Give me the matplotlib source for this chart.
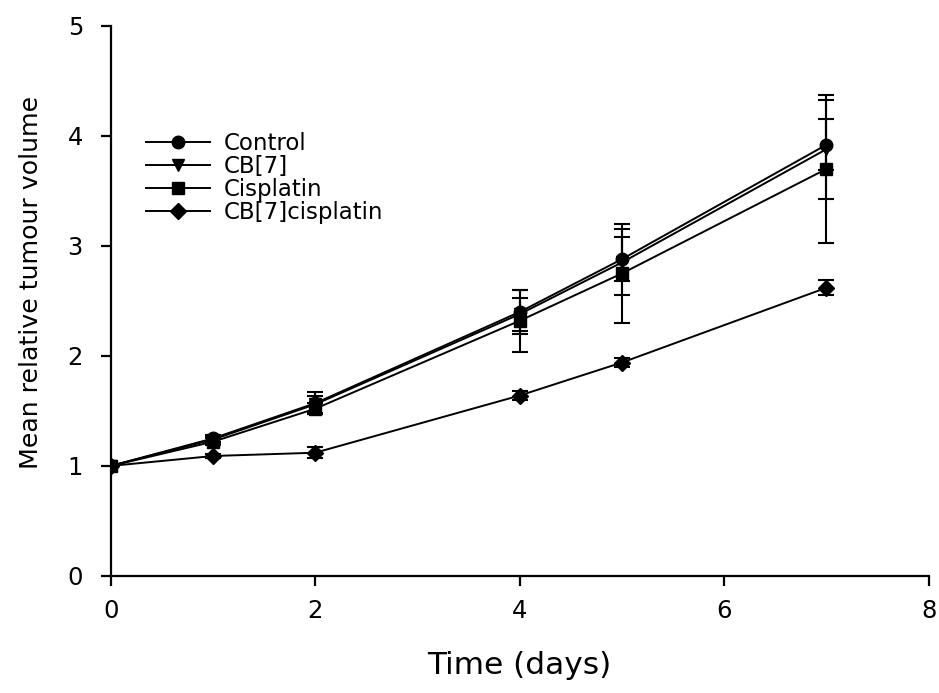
import matplotlib.pyplot as plt
from matplotlib.lines import Line2D

plt.rcParams['font.family'] = ['DejaVu Sans']

days = [0, 1, 2, 4, 5, 7]

control = [1.0, 1.25, 1.57, 2.40, 2.88, 3.92]
control_err = [0.0, 0.03, 0.10, 0.20, 0.20, 0.23]

cb7 = [1.0, 1.24, 1.56, 2.38, 2.85, 3.88]
cb7_err = [0.0, 0.03, 0.08, 0.15, 0.30, 0.45]

cisplatin = [1.0, 1.22, 1.52, 2.32, 2.75, 3.70]
cisplatin_err = [0.0, 0.03, 0.05, 0.28, 0.45, 0.67]

cb7_cis = [1.0, 1.09, 1.12, 1.64, 1.94, 2.62]
cb7_cis_err = [0.0, 0.02, 0.05, 0.04, 0.04, 0.07]

series = [
    ('Control', control, control_err, 'o', 9),
    ('CB[7]', cb7, cb7_err, 'v', 9),
    ('Cisplatin', cisplatin, cisplatin_err, 's', 8),
    ('CB[7]cisplatin', cb7_cis, cb7_cis_err, 'D', 8),
]

fig = plt.figure(figsize=(9.39, 6.93), dpi=100)
ax = fig.add_axes([0.118, 0.169, 0.871, 0.7935])

handles = []
for name, y, err, mk, ms in series:
    ax.errorbar(days, y, yerr=err, color='black', marker=mk, markersize=ms,
                linewidth=1.4, elinewidth=1.5, capsize=6, capthick=1.5)
    handles.append(Line2D([], [], color='black', marker=mk, markersize=ms,
                          linewidth=1.4, label=name))

ax.set_xlim(0, 8)
ax.set_ylim(0, 5)
ax.set_xticks([0, 2, 4, 6, 8])
ax.set_yticks([0, 1, 2, 3, 4, 5])

for s in ['top', 'right']:
    ax.spines[s].set_visible(False)
for s in ['left', 'bottom']:
    ax.spines[s].set_linewidth(1.6)
ax.tick_params(direction='out', length=7, width=1.6, labelsize=17.5)
ax.tick_params(axis='y', pad=13)
ax.tick_params(axis='x', pad=10)

ax.set_xlabel('Time (days)', fontsize=22.5, labelpad=20)
ax.set_ylabel('Mean relative tumour volume', fontsize=18.2)
ax.yaxis.set_label_coords(-0.083, 0.533)

ax.legend(handles=handles, loc='upper left', bbox_to_anchor=(0.018, 0.845),
          frameon=False, fontsize=16.5, handlelength=2.8, labelspacing=0.0,
          handletextpad=0.6)

fig.savefig('out.png', dpi=100)
